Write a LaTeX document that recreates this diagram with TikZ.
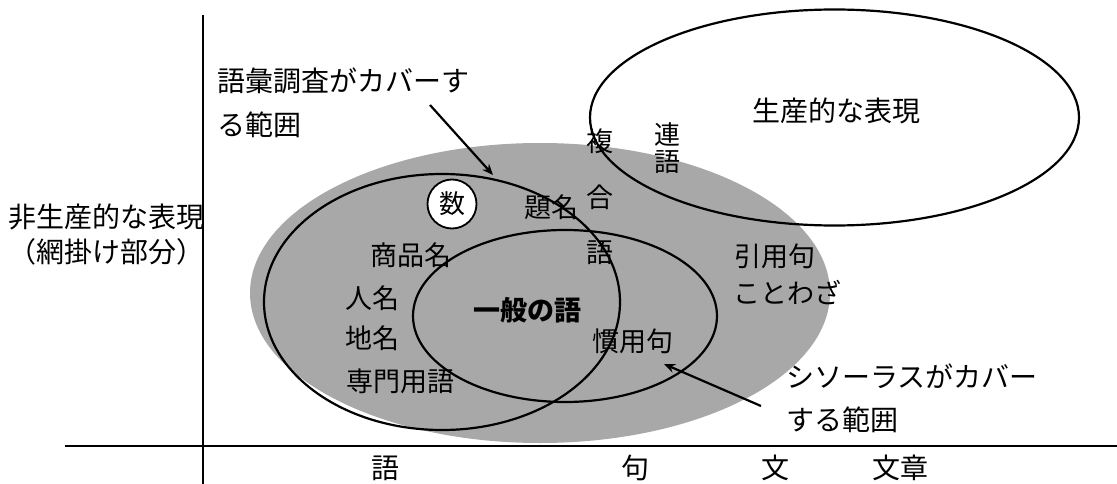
\documentclass[tikz,border=0pt]{standalone}
\usepackage{fontspec}
\setmainfont{Noto Sans CJK JP}
\usetikzlibrary{arrows.meta,shapes.geometric}
\begin{document}
\begin{tikzpicture}[x=1pt,y=-1pt,
  lbl/.style={font=\fontsize{28pt}{44pt}\selectfont, inner sep=0pt},
  item/.style={font=\fontsize{27pt}{30pt}\selectfont, inner sep=0pt},
  ring/.style={draw, ellipse, line width=2.2pt, inner sep=0pt},
  arr/.style={line width=2.2pt, -{Stealth[length=11pt,width=9pt]}},
  axisline/.style={line width=2pt}]
\useasboundingbox (0,0) rectangle (1117,484);
% shaded region (non-productive expressions)
\node[ellipse, fill=black!34, minimum width=580pt, minimum height=300pt, inner sep=0pt] (net) at (540,293) {};
% ellipses
\node[ring, minimum width=489pt, minimum height=216pt] (prod) at (834.5,117.5) {};
\node[ring, minimum width=356pt, minimum height=256pt] (vocab) at (442,302) {};
\node[ring, minimum width=304pt, minimum height=172pt] (thes) at (565,316) {};
\node[circle, draw, fill=white, line width=1.8pt, minimum size=49pt, inner sep=0pt, font=\fontsize{26pt}{28pt}\selectfont] (num) at (452,204) {数};
% axes
\coordinate (yt) at (203,15);
\coordinate (yb) at (203,484);
\coordinate (xl) at (65,446);
\coordinate (xr) at (1117,446);
\draw[axisline] (yt) -- (yb);
\draw[axisline, line width=2.4pt] (xl) -- (xr);
% labels
\node[lbl] (prodlbl) at (836,111) {生産的な表現};
\node[lbl, anchor=north west, align=left] (vlab) at (217,68) {語彙調査がカバーす\\る範囲};
\node[lbl, anchor=north west, align=left, font=\fontsize{28pt}{43pt}\selectfont] (tlab) at (786,364) {シソーラスがカバー\\する範囲};
\node[lbl, anchor=north west, align=left, font=\fontsize{28pt}{35pt}\selectfont] (np) at (8,204) {非生産的な表現\\（網掛け部分）};
\node[lbl] (xgo) at (385,468) {語};
\node[lbl] (xku) at (635,468) {句};
\node[lbl] (xbun) at (775,468) {文};
\node[lbl] (xbunsho) at (900,468) {文章};
% items
\node[item] (shohin) at (411,255) {商品名};
\node[item] (jinmei) at (372,298) {人名};
\node[item] (chimei) at (372,338) {地名};
\node[item] (senmon) at (400,381) {専門用語};
\node[item, font=\fontsize{27pt}{30pt}\selectfont\bfseries] (ippan) at (527,310) {一般の語};
\node[item] (daimei) at (551,207) {題名};
\node[item, align=center, font=\fontsize{27pt}{55.5pt}\selectfont] (fukugo) at (600,197) {複\\合\\語};
\node[item, align=center, font=\fontsize{26pt}{27pt}\selectfont] (rengo) at (667,148) {連\\語};
\node[item] (kanyo) at (633,341) {慣用句};
\node[item] (inyo) at (775,256) {引用句};
\node[item] (kotowaza) at (787,293) {ことわざ};
% arrows
\coordinate (a1) at (430,105);
\coordinate (a1t) at (493,175);
\coordinate (a2) at (761,406);
\coordinate (a2t) at (664,364);
\draw[arr] (a1) -- (a1t);
\draw[arr] (a2) -- (a2t);
\end{tikzpicture}
\end{document}
